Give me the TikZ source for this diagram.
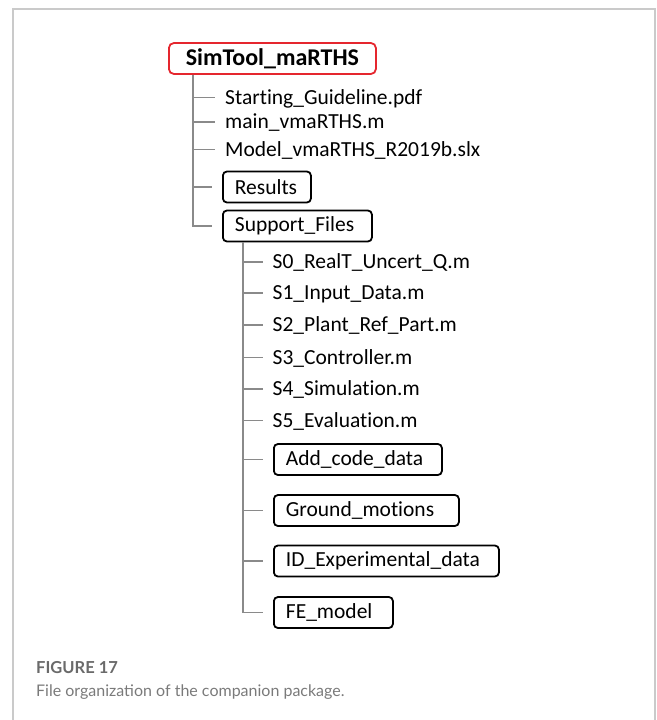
\documentclass[tikz,border=0pt]{standalone}
\usepackage{fontspec}
\setmainfont{Carlito}[Ligatures=NoCommon]
\newfontfamily\capfont{Lato}
\definecolor{rootred}{HTML}{E5262E}
\definecolor{treegray}{HTML}{8A8A8A}
\definecolor{framegray}{HTML}{CACACA}
\definecolor{capgray}{HTML}{6A6A6A}
\definecolor{textgray}{HTML}{7A7A7A}
\tikzset{
  file/.style={anchor=west, inner sep=0pt, text height=13.5pt, text depth=0pt,
    font=\fontsize{21.5}{24}\selectfont},
  folder/.style={draw, line width=1.8pt, rounded corners=4pt, anchor=west,
    inner xsep=12pt, inner ysep=0pt, minimum height=31pt, text width=#1, align=left,
    font=\fontsize{21.5}{24}\selectfont},
  branch/.style={treegray, line width=1.6pt, shorten >=10pt},
}
\begin{document}
\begin{tikzpicture}[x=1pt,y=-1pt]  % ------ File organization tree -------
\useasboundingbox (0,0) rectangle (656,720);
\draw[framegray, line width=1.3pt] (13,720) -- (13,9) -- (655,9) -- (655,720);

    \coordinate (T1) at (193,0);  % first trunk
    \coordinate (T2) at (243,0);  % second trunk

    \node[draw=rootred, line width=1.8pt, rounded corners=5pt, anchor=west,
      inner xsep=14pt, minimum width=207pt, minimum height=31pt,
      font=\fontsize{24}{26}\selectfont\bfseries]
      (root) at (168,58.5) {SimTool\_maRTHS};

    \node[file] (guide) at (225,97.5) {Starting\_Guideline.pdf};
    \node[file] (mainm) at (225,122) {main\_vmaRTHS.m};
    \node[file] (model) at (225,149.5) {Model\_vmaRTHS\_R2019b.slx};
    \node[folder=64pt] (res) at (222,187) {Results};
    \node[folder=125pt] (sup) at (222,226) {Support\_Files};

    \node[file] (s0) at (272.5,262) {S0\_RealT\_Uncert\_Q.m};
    \node[file] (s1) at (272.5,293) {S1\_Input\_Data.m};
    \node[file] (s2) at (272.5,325) {S2\_Plant\_Ref\_Part.m};
    \node[file] (s3) at (272.5,357.5) {S3\_Controller.m};
    \node[file] (s4) at (272.5,389) {S4\_Simulation.m};
    \node[file] (s5) at (272.5,420.5) {S5\_Evaluation.m};
    \node[folder=144pt] (add) at (273,459.5) {Add\_code\_data};
    \node[folder=161pt] (ground) at (273,510.5) {Ground\_motions};
    \node[folder=201pt] (idexp) at (273,561) {ID\_Experimental\_data};
    \node[folder=95pt] (fem) at (273,612.5) {FE\_model};

    \foreach \n in {guide,mainm,model,res,sup}
      \draw[branch] (root.south -| T1) |- (\n.west);
    \foreach \n in {s0,s1,s2,s3,s4,s5,add,ground,idexp,fem}
      \draw[branch] (sup.south -| T2) |- (\n.west);

    % caption
    \node[anchor=base west, inner sep=0pt, text=capgray, font=\capfont\bfseries\fontsize{16.5}{18}\selectfont]
      (fig) at (36,673) {FIGURE 17};
    \node[anchor=base west, inner sep=0pt, text=textgray, font=\capfont\fontsize{16}{18}\selectfont]
      (cap) at (36,696) {File organization of the companion package.};
\end{tikzpicture}
\end{document}
